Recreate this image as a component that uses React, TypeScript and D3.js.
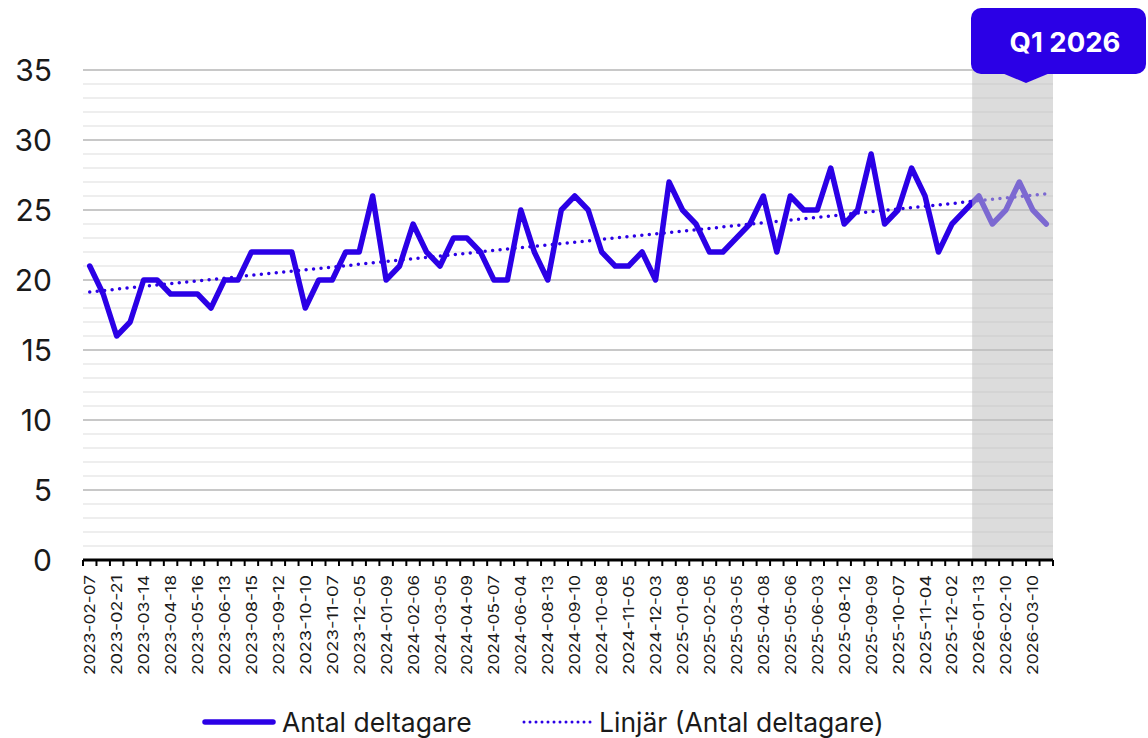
import React from "react";
import * as d3 from "d3";

const tickLabels: string[] = [
  "2023-02-07", "2023-02-21", "2023-03-14", "2023-04-18", "2023-05-16", "2023-06-13",
  "2023-08-15", "2023-09-12", "2023-10-10", "2023-11-07", "2023-12-05", "2024-01-09",
  "2024-02-06", "2024-03-05", "2024-04-09", "2024-05-07", "2024-06-04", "2024-08-13",
  "2024-09-10", "2024-10-08", "2024-11-05", "2024-12-03", "2025-01-08", "2025-02-05",
  "2025-03-05", "2025-04-08", "2025-05-06", "2025-06-03", "2025-08-12", "2025-09-09",
  "2025-10-07", "2025-11-04", "2025-12-02", "2026-01-13", "2026-02-10", "2026-03-10",
];

const values: number[] = [
  21, 19, 16, 17, 20, 20, 19, 19, 19, 18, 20, 20,
  22, 22, 22, 22, 18, 20, 20, 22, 22, 26, 20, 21,
  24, 22, 21, 23, 23, 22, 20, 20, 25, 22, 20, 25,
  26, 25, 22, 21, 21, 22, 20, 27, 25, 24, 22, 22,
  23, 24, 26, 22, 26, 25, 25, 28, 24, 25, 29, 24,
  25, 28, 26, 22, 24, 25, 26, 24, 25, 27, 25, 24,
];

const yTicks: number[] = [0, 5, 10, 15, 20, 25, 30, 35];
const seriesName = "Antal deltagare";
const trendName = "Linjär (Antal deltagare)";
const highlightLabel = "Q1 2026";
const highlightStart = 66; // first category of Q1 2026

const W = 1148;
const H = 738;
const BLUE = "#2b00e6";
const FONT = "Inter, 'Liberation Sans', Arial, sans-serif";

export default function App() {
  const idx = values.map((_, i) => i);
  const x = d3.scaleBand<number>().domain(idx).range([83, 1053]).padding(0);
  const bw = x.bandwidth();
  const cx = (i: number) => (x(i) as number) + bw / 2;
  const y = d3.scaleLinear().domain([0, 35]).range([560, 70]);

  const line = d3
    .line<number>()
    .x((_, i) => cx(i))
    .y((d) => y(d));

  // linear trendline (least squares), like the spreadsheet's trendline
  const n = values.length;
  const mx = d3.mean(idx) as number;
  const my = d3.mean(values) as number;
  let sxy = 0;
  let sxx = 0;
  idx.forEach((i) => {
    sxy += (i - mx) * (values[i] - my);
    sxx += (i - mx) * (i - mx);
  });
  const slope = sxy / sxx;
  const icpt = my - slope * mx;
  const trend = [0, n - 1].map((i) => [cx(i), y(icpt + slope * i)] as [number, number]);
  const trendPath = d3.line()(trend) as string;

  const minor = d3.range(1, 36).filter((v) => v % 5 !== 0);
  const boundaries = d3.range(0, n + 1).map((k) => 83 + k * bw);

  const shadeX = x(highlightStart) as number;
  const xRight = 1053;

  const boxX = 971;
  const boxY = 8;
  const boxW = 175;
  const boxH = 66;
  const tipX = 1026;

  return (
    <svg
      width={W}
      height={H}
      viewBox={`0 0 ${W} ${H}`}
      style={{ position: "absolute", left: 0, top: 0, background: "#fff" }}
      fontFamily={FONT}
    >
      {/* minor gridlines */}
      {minor.map((v) => (
        <line key={"m" + v} x1={83} x2={xRight} y1={y(v)} y2={y(v)} stroke="#eeeeee" strokeWidth={2} />
      ))}
      {/* major gridlines */}
      {yTicks.filter((v) => v > 0).map((v) => (
        <line key={"g" + v} x1={83} x2={xRight} y1={y(v)} y2={y(v)} stroke="#c8c8c8" strokeWidth={2} />
      ))}

      {/* y labels */}
      {yTicks.map((v) => (
        <text key={"y" + v} x={52} y={y(v)} textAnchor="end" dominantBaseline="central" fontSize={30} fill="#1a1a1a">
          {v}
        </text>
      ))}

      {/* series line */}
      <path d={line(values) as string} fill="none" stroke={BLUE} strokeWidth={5.5} strokeLinejoin="round" strokeLinecap="round" />
      {/* trendline */}
      <path d={trendPath} fill="none" stroke={BLUE} strokeWidth={3.5} strokeDasharray="0 7.5" strokeLinecap="round" />

      {/* Q1 2026 shade */}
      <rect x={shadeX} y={70} width={xRight - shadeX} height={490} fill="#bfbfbf" opacity={0.55} />

      {/* x axis */}
      <line x1={83} x2={xRight} y1={560} y2={560} stroke="#000" strokeWidth={3} />
      {boundaries.map((bx, k) => (
        <line key={"t" + k} x1={bx} x2={bx} y1={560} y2={566} stroke="#000" strokeWidth={2} />
      ))}
      {tickLabels.map((lab, j) => (
        <text
          key={"x" + j}
          transform={`translate(${cx(j * 2)},575) rotate(-90)`}
          textAnchor="end"
          dominantBaseline="central"
          fontSize={15}
          textLength={100}
          lengthAdjust="spacingAndGlyphs"
          fill="#1a1a1a"
        >
          {lab}
        </text>
      ))}

      {/* callout */}
      <rect x={boxX} y={boxY} width={boxW} height={boxH} rx={10} fill={BLUE} />
      <polygon points={`${tipX - 24},${boxY + boxH - 1} ${tipX + 24},${boxY + boxH - 1} ${tipX},${boxY + boxH + 9}`} fill={BLUE} />
      <text x={1065} y={42} textAnchor="middle" dominantBaseline="central" fontSize={27.5} fontWeight={700} fill="#fff">
        {highlightLabel}
      </text>

      {/* legend */}
      <line x1={205} x2={273} y1={722} y2={722} stroke={BLUE} strokeWidth={5.5} strokeLinecap="round" />
      <text x={282} y={722} dominantBaseline="central" fontSize={26.5} fill="#1a1a1a">
        {seriesName}
      </text>
      <line x1={524} x2={592} y1={722} y2={722} stroke={BLUE} strokeWidth={3} strokeDasharray="0 6" strokeLinecap="round" />
      <text x={599} y={722} dominantBaseline="central" fontSize={26.5} fill="#1a1a1a">
        {trendName}
      </text>
    </svg>
  );
}
